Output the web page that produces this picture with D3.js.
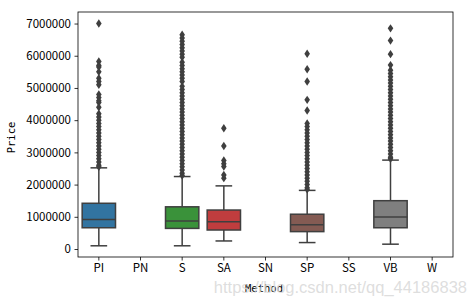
<!DOCTYPE html>
<html><head><meta charset="utf-8">
<script src="https://cdn.jsdelivr.net/npm/d3@7"></script>
<style>body{margin:0;background:#fff}</style>
</head><body>
<svg id="chart" width="476" height="306"></svg>
<script>
const categories = ["PI","PN","S","SA","SN","SP","SS","VB","W"];
const colors = ["#3274a1","#e1812c","#3a923a","#c03d3e","#9372b2","#845b53","#d684bd","#7f7f7f","#a9aa35"];
const q1 = [660000, null, 640000, 590000, null, 540000, null, 660000, null];
const medians = [920000, null, 870000, 850000, null, 750000, null, 990000, null];
const q3 = [1420000, null, 1310000, 1210000, null, 1080000, null, 1500000, null];
const whiskerLow = [100000, null, 100000, 250000, null, 200000, null, 150000, null];
const whiskerHigh = [2520000, null, 2250000, 1960000, null, 1820000, null, 2760000, null];
const outliersPI = [7000000, 5820000, 5700000, 5650000, 5500000, 5300000, 5200000, 5100000, 4800000, 4700000, 4600000, 4550000, 4400000, 4200000, 4100000, 4000000, 3900000, 3800000, 3700000, 3600000, 3500000, 3400000, 3300000, 3200000, 3100000, 3000000, 2900000, 2800000, 2700000, 2600000, 2550000];
const outliersS = [6650000, 6550000, 6450000, 6350000, 6250000, 6150000, 6050000, 5950000, 5800000, 5700000, 5600000, 5500000, 5400000, 5300000, 5200000, 5050000, 4950000, 4850000, 4750000, 4650000, 4550000, 4450000, 4350000, 4250000, 4150000, 4050000, 3950000, 3850000, 3750000, 3650000, 3550000, 3450000, 3350000, 3250000, 3150000, 3050000, 2950000, 2850000, 2750000, 2650000, 2550000, 2450000, 2350000, 2280000];
const outliersSA = [3750000, 3200000, 2750000, 2650000, 2560000, 2300000, 2200000];
const outliersSP = [6060000, 5580000, 5200000, 4630000, 4300000, 3900000, 3800000, 3700000, 3600000, 3500000, 3400000, 3300000, 3200000, 3100000, 3000000, 2900000, 2800000, 2700000, 2600000, 2500000, 2400000, 2300000, 2200000, 2100000, 2000000, 1900000, 1850000];
const outliersVB = [6850000, 6470000, 6050000, 5710000, 5550000, 5450000, 5350000, 5250000, 5150000, 5050000, 4950000, 4850000, 4750000, 4650000, 4550000, 4450000, 4350000, 4250000, 4150000, 4050000, 3950000, 3850000, 3750000, 3650000, 3550000, 3450000, 3350000, 3250000, 3150000, 3050000, 2950000, 2850000, 2800000];
const outliers = [outliersPI, [], outliersS, outliersSA, [], outliersSP, [], outliersVB, []];
const yTicks = [0, 1000000, 2000000, 3000000, 4000000, 5000000, 6000000, 7000000];

const svg = d3.select("#chart");
const L = 78, R = 453, T = 12, B = 257;
const x = d3.scaleBand().domain(categories).range([L, R]).paddingInner(0.2).paddingOuter(0.1);
const y = d3.scaleLinear().domain([-248000, 7358000]).range([B, T]);
const lineCol = "#3f3f3f";
const font = "'Noto Sans CJK SC', sans-serif";
const monoFont = "'DejaVu Sans Mono', monospace";

// axes
const yAxis = svg.append("g").attr("transform", `translate(${L},0)`)
  .call(d3.axisLeft(y).tickValues(yTicks).tickFormat(d3.format("d")).tickSize(3.5).tickPadding(3.5));
const xAxis = svg.append("g").attr("transform", `translate(0,${B})`)
  .call(d3.axisBottom(x).tickSize(3.5).tickPadding(3.5));
[yAxis, xAxis].forEach(g => {
  g.select(".domain").remove();
  g.selectAll("line").attr("stroke", "#000").attr("stroke-width", 0.8);
  g.selectAll("text").attr("fill", "#000").style("font-family", font).style("font-size", "11.5px");
});

const bw = x.bandwidth();
categories.forEach((c, i) => {
  if (q1[i] === null) return;
  const cx = x(c) + bw / 2;
  const g = svg.append("g");
  g.append("line").attr("x1", cx).attr("x2", cx).attr("y1", y(q3[i])).attr("y2", y(whiskerHigh[i]))
    .attr("stroke", lineCol).attr("stroke-width", 1.5);
  g.append("line").attr("x1", cx).attr("x2", cx).attr("y1", y(q1[i])).attr("y2", y(whiskerLow[i]))
    .attr("stroke", lineCol).attr("stroke-width", 1.5);
  [whiskerHigh[i], whiskerLow[i]].forEach(v => {
    g.append("line").attr("x1", cx - bw / 4).attr("x2", cx + bw / 4).attr("y1", y(v)).attr("y2", y(v))
      .attr("stroke", lineCol).attr("stroke-width", 1.5);
  });
  g.append("rect").attr("x", x(c)).attr("width", bw).attr("y", y(q3[i])).attr("height", y(q1[i]) - y(q3[i]))
    .attr("fill", colors[i]).attr("stroke", lineCol).attr("stroke-width", 1.5);
  g.append("line").attr("x1", x(c)).attr("x2", x(c) + bw).attr("y1", y(medians[i])).attr("y2", y(medians[i]))
    .attr("stroke", lineCol).attr("stroke-width", 1.5);
  g.selectAll("path.flier").data(outliers[i]).join("path").attr("class", "flier")
    .attr("d", "M0,-4.2L2.8,0L0,4.2L-2.8,0Z")
    .attr("transform", d => `translate(${cx},${y(d)})`)
    .attr("fill", lineCol);
});

// frame
svg.append("rect").attr("x", L).attr("y", T).attr("width", R - L).attr("height", B - T)
  .attr("fill", "none").attr("stroke", "#000").attr("stroke-width", 0.8);

// labels
svg.append("text").attr("transform", `translate(15,${(T + B) / 2 + 3}) rotate(-90)`)
  .attr("text-anchor", "middle").style("font-family", monoFont).style("font-size", "10.5px").text("Price");
svg.append("text").attr("x", 264).attr("y", 292)
  .attr("text-anchor", "middle").style("font-family", monoFont).style("font-size", "10.5px").text("Method");
svg.append("text").attr("x", 467).attr("y", 293).attr("text-anchor", "end")
  .style("font-family", "'Liberation Sans', sans-serif").style("font-size", "16.5px")
  .attr("fill", "#d8d8d8").attr("fill-opacity", 0.85).text("https://blog.csdn.net/qq_44186838");
</script>
</body></html>
